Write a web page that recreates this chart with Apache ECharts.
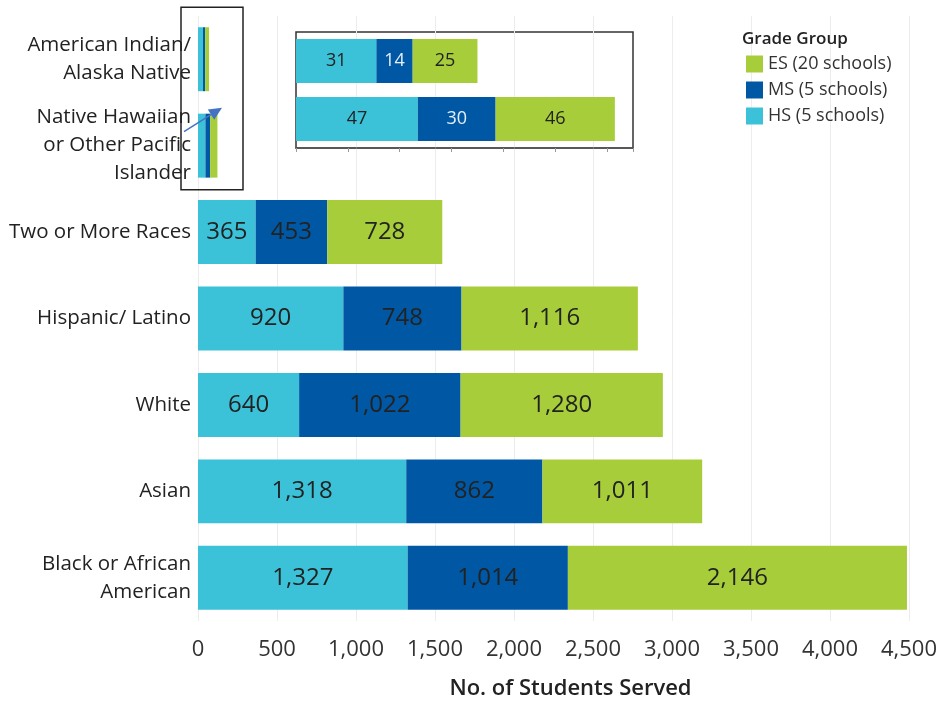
<!DOCTYPE html>
<html>
<head>
<meta charset="utf-8">
<script src="https://cdn.jsdelivr.net/npm/echarts@6/dist/echarts.min.js"></script>
<style>
  html, body { margin: 0; padding: 0; background: #fff; }
  #chart { width: 943px; height: 702px; }
</style>
</head>
<body>
<div id="chart"></div>
<script>
// categories, top to bottom
const categories = [
  'American Indian/\nAlaska Native',
  'Native Hawaiian\nor Other Pacific\nIslander',
  'Two or More Races',
  'Hispanic/ Latino',
  'White',
  'Asian',
  'Black or African\nAmerican'
]
const hsValues = [31, 47, 365, 920, 640, 1318, 1327]
const msValues = [14, 30, 453, 748, 1022, 862, 1014]
const esValues = [25, 46, 728, 1116, 1280, 1011, 2146]
const seriesNames = ['HS (5 schools)', 'MS (5 schools)', 'ES (20 schools)']
const legendOrder = ['ES (20 schools)', 'MS (5 schools)', 'HS (5 schools)']
const colors = ['#3bc2d8', '#0057a4', '#a7cd3a']

// the two small groups also get drawn in the zoomed inset
const insetCount = 2

const fmt = v => Number(v).toLocaleString('en-US')

const chart = echarts.init(document.getElementById('chart'))

const mainSeries = [hsValues, msValues, esValues].map((arr, i) => ({
  name: seriesNames[i],
  type: 'bar',
  stack: 'main',
  xAxisIndex: 0,
  yAxisIndex: 0,
  barCategoryGap: '26%',
  itemStyle: { color: colors[i] },
  label: {
    show: true,
    position: 'inside',
    fontSize: 24,
    color: '#222',
    formatter: p => (p.dataIndex < insetCount ? '' : fmt(p.value))
  },
  data: arr
}))

const insetSeries = [hsValues, msValues, esValues].map((arr, i) => ({
  name: seriesNames[i],
  type: 'bar',
  stack: 'inset',
  xAxisIndex: 1,
  yAxisIndex: 1,
  barCategoryGap: '24%',
  itemStyle: { color: colors[i] },
  label: {
    show: true,
    position: 'inside',
    fontSize: 18,
    color: i === 1 ? '#e6eef7' : '#222',
    formatter: p => fmt(p.value)
  },
  data: arr.slice(0, insetCount)
}))

const option = {
  animation: false,
  textStyle: { fontFamily: 'Open Sans' },
  title: {
    text: 'Grade Group',
    left: 737,
    top: 26,
    textStyle: { fontSize: 17, fontWeight: 600, color: '#222', fontFamily: 'Open Sans' }
  },
  legend: {
    data: legendOrder,
    orient: 'vertical',
    left: 741,
    top: 50,
    icon: 'rect',
    itemWidth: 17,
    itemHeight: 17,
    itemGap: 8,
    textStyle: { fontSize: 18, color: '#333' }
  },
  grid: [
    { left: 198, top: 16, right: 34, bottom: 81, outerBoundsMode: 'none' },
    {
      left: 296, top: 32, width: 337, height: 116, outerBoundsMode: 'none',
      show: true, borderColor: '#333', borderWidth: 1.5
    }
  ],
  xAxis: [
    {
      type: 'value',
      gridIndex: 0,
      min: 0,
      max: 4500,
      interval: 500,
      axisLine: { show: false },
      axisTick: { show: false },
      splitLine: { lineStyle: { color: '#ececec' } },
      axisLabel: { fontSize: 22, color: '#333', margin: 18, formatter: fmt },
      name: 'No. of Students Served',
      nameLocation: 'middle',
      nameGap: 57,
      nameTextStyle: { fontSize: 22, fontWeight: 600, color: '#222', padding: [0, 0, 0, 34] }
    },
    {
      type: 'value',
      gridIndex: 1,
      min: 0,
      max: 130,
      interval: 20,
      axisLabel: { show: false },
      splitLine: { show: false },
      axisLine: { show: true, lineStyle: { color: '#555', width: 1.5 } },
      axisTick: { show: true, length: 4, lineStyle: { color: '#999' } }
    }
  ],
  yAxis: [
    {
      type: 'category',
      gridIndex: 0,
      inverse: true,
      data: categories,
      axisLine: { show: false },
      axisTick: { show: false },
      axisLabel: { fontSize: 20.5, lineHeight: 28, color: '#222', margin: 7 }
    },
    {
      type: 'category',
      gridIndex: 1,
      inverse: true,
      data: categories.slice(0, insetCount),
      show: false
    }
  ],
  series: mainSeries.concat(insetSeries)
}

chart.setOption(option)

// callout box round the tiny bars and the arrow to the inset
const x0 = chart.convertToPixel({ xAxisIndex: 0 }, 0)
const yAI = chart.convertToPixel({ yAxisIndex: 0 }, categories[0])
const yNH = chart.convertToPixel({ yAxisIndex: 0 }, categories[1])

const start = [x0 - 14, yNH - 14]
const end = [x0 + 24, yNH - 38]
const dx = end[0] - start[0]
const dy = end[1] - start[1]
const len = Math.sqrt(dx * dx + dy * dy)
const ux = dx / len
const uy = dy / len
const headLen = 13
const headW = 6
const bx = end[0] - ux * headLen
const by = end[1] - uy * headLen

chart.setOption({
  graphic: [
    {
      type: 'rect',
      shape: { x: x0 - 17, y: yAI - 52, width: 62, height: yNH - yAI + 96 },
      style: { fill: 'none', stroke: '#222', lineWidth: 1.5 },
      z: 10
    },
    {
      type: 'line',
      shape: { x1: start[0], y1: start[1], x2: bx, y2: by },
      style: { stroke: '#4472c4', lineWidth: 1.5 },
      z: 10
    },
    {
      type: 'polygon',
      shape: {
        points: [
          end,
          [bx - uy * headW, by + ux * headW],
          [bx + uy * headW, by - ux * headW]
        ]
      },
      style: { fill: '#4472c4' },
      z: 10
    }
  ]
})
</script>
</body>
</html>
